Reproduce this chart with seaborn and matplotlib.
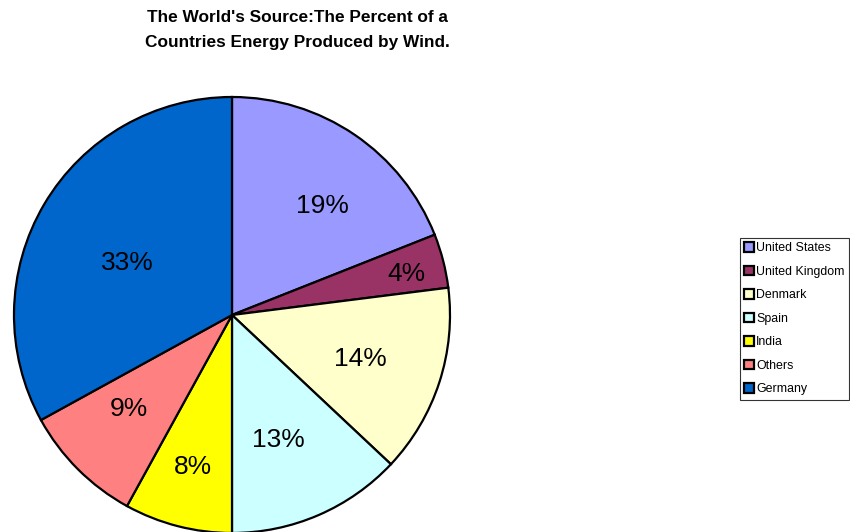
import numpy as np
import matplotlib
matplotlib.use("Agg")
import matplotlib.pyplot as plt
from matplotlib.patches import Patch
import seaborn as sns

countries = ["United States", "United Kingdom", "Denmark", "Spain", "India", "Others", "Germany"]
shares = [19, 4, 14, 13, 8, 9, 33]
colors = ["#9999FF", "#993366", "#FFFFCC", "#CCFFFF", "#FFFF00", "#FF8080", "#0066CC"]
# placement of each percentage label: fraction of the radius, and a turn (degrees) off the wedge centre
label_r = [0.656, 0.822, 0.618, 0.602, 0.711, 0.634, 0.542]
label_turn = [-4.8, -0.5, -0.2, -2.9, -0.2, -3.2, 3.4]

sns.set_theme(style="white")
plt.rcParams["font.family"] = ["Liberation Sans", "DejaVu Sans"]
plt.rcParams["text.color"] = "black"

fig = plt.figure(figsize=(8.5, 5.32), dpi=100)
W, H = 850, 532
cx, cy, R = 232, 315, 218
ax = fig.add_axes([(cx - R) / W, (H - cy - R) / H, 2 * R / W, 2 * R / H])

wedges, _ = ax.pie(shares, colors=colors, startangle=90, counterclock=False,
                   radius=1, wedgeprops=dict(edgecolor="black", linewidth=1.6))
ax.set_xlim(-1, 1)
ax.set_ylim(-1, 1)
ax.set_aspect("equal")
ax.axis("off")

total = sum(shares)
for w, v, r, t in zip(wedges, shares, label_r, label_turn):
    mid = np.deg2rad((w.theta1 + w.theta2) / 2 + t)
    ax.text(r * np.cos(mid), r * np.sin(mid) - 0.01, f"{round(100 * v / total)}%",
            ha="center", va="center", fontsize=19, color="black")

fig.text(297 / W, 1 - 30 / H,
         "The World's Source:The Percent of a\nCountries Energy Produced by Wind.",
         ha="center", va="center", fontsize=12.4, fontweight="bold",
         linespacing=1.82, color="black")

handles = [Patch(facecolor=c, edgecolor="black", linewidth=1.6) for c in colors]
leg = fig.legend(handles, countries, loc="upper left",
                 bbox_to_anchor=(740 / W, 1 - 238 / H), bbox_transform=fig.transFigure,
                 borderaxespad=0, fontsize=8.9, frameon=True, fancybox=False,
                 handlelength=0.75, handleheight=0.75, handletextpad=0.2,
                 labelspacing=0.93, borderpad=0.35)
leg.get_frame().set_edgecolor("black")
leg.get_frame().set_linewidth(0.8)
for txt in leg.get_texts():
    txt.set_color("black")

fig.savefig("out.png", dpi=100)
